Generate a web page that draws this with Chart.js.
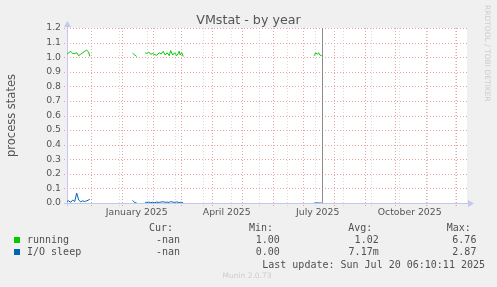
<!DOCTYPE html>
<html>
<head>
<meta charset="utf-8">
<script src="https://cdn.jsdelivr.net/npm/chart.js@4.4.1/dist/chart.umd.min.js"></script>
<style>
html, body { margin: 0; padding: 0; background: #f0f0f0; }
</style>
</head>
<body>
<canvas id="myChart" width="497" height="287"></canvas>
<script>
// days counted from 1 January 2025, null = no data
var days     = [-55, -53, -51, -49, -47, -45, -43, -41, -39, -37, -35, -33, -32, -10,
                11, 13, 15, 19,
                23.5, 25, 27, 29, 31, 33, 35, 37.5, 39.5, 41.5, 43.5, 45.5, 47.5, 49, 51, 53, 55, 56.5, 57.5, 58.5, 60, 61.6, 120,
                192.5, 194, 195.5, 197, 198.5, 200];
var running  = [1.02, 1.03, 1.04, 1.025, 1.025, 1.03, 1.01, 1.02, 1.03, 1.04, 1.048, 1.035, 1.005, null,
                1.027, 1.015, 1.005, null,
                1.03, 1.025, 1.035, 1.02, 1.025, 1.018, 1.013, 1.03, 1.022, 1.04, 1.015, 1.03, 1.01, 1.045, 1.015, 1.03, 1.01, 1.025, 1.04, 1.015, 1.03, 1.005, null,
                1.01, 1.03, 1.02, 1.03, 1.012, 1.01];
var ioSleep  = [0.010, 0.015, 0.005, 0.020, 0.010, 0.068, 0.020, 0.008, 0.015, 0.010, 0.015, 0.020, 0.028, null,
                0.018, 0.003, 0.0, null,
                0.005, 0.004, 0.006, 0.003, 0.005, 0.002, 0.006, 0.004, 0.007, 0.008, 0.005, 0.006, 0.004, 0.010, 0.006, 0.004, 0.007, 0.005, 0.003, 0.005, 0.004, 0.0, null,
                0.0, 0.0, 0.001, 0.0, 0.0, 0.0];

var monthStarts = [-31, 0, 31, 59, 90, 120, 151, 181, 212, 243, 273, 304, 334];
var weekLines   = [-31, -3, 25, 53, 81, 109, 137, 165, 193, 221, 249, 277, 305, 333];
var monthLabels = ['January 2025', 'April 2025', 'July 2025', 'October 2025'];
var labelDays   = [15, 105, 196, 288];
var yTicks      = [0, 0.1, 0.2, 0.3, 0.4, 0.5, 0.6, 0.7, 0.8, 0.9, 1.0, 1.1, 1.2];
var nowDay      = 200;

var seriesNames  = ['running', 'I/O sleep'];
var seriesColors = ['#00cc00', '#0066b3'];
var curVals = ['-nan', '-nan'];
var minVals = ['1.00', '0.00'];
var avgVals = ['1.02', '7.17m'];
var maxVals = ['6.76', '2.87'];

function pts(vals) {
    return days.map(function (d, i) { return { x: d, y: vals[i] }; });
}

function seg(c, x1, y1, x2, y2) {
    c.beginPath();
    c.moveTo(x1, y1);
    c.lineTo(x2, y2);
    c.stroke();
}

var munin = {
    id: 'munin',
    beforeDraw: function (chart) {
        var c = chart.ctx, a = chart.chartArea;
        c.save();
        c.fillStyle = '#f0f0f0';
        c.fillRect(0, 0, chart.width, chart.height);
        c.fillStyle = '#ffffff';
        c.fillRect(a.left, a.top, a.right - a.left, a.bottom - a.top);
        c.restore();
    },
    beforeDatasetsDraw: function (chart) {
        var c = chart.ctx, a = chart.chartArea, xs = chart.scales.x, ys = chart.scales.y;
        c.save();
        c.lineWidth = 1;
        c.setLineDash([1, 2]);
        c.strokeStyle = '#d9d9d9';
        weekLines.forEach(function (d) {
            if (d < xs.min || d > xs.max) return;
            var px = Math.round(xs.getPixelForValue(d)) + 0.5;
            seg(c, px, a.top, px, a.bottom + 3);
        });
        c.strokeStyle = '#eba3a3';
        monthStarts.forEach(function (d) {
            if (d < xs.min || d > xs.max) return;
            var px = Math.round(xs.getPixelForValue(d)) + 0.5;
            seg(c, px, a.top, px, a.bottom + 3);
        });
        yTicks.forEach(function (v) {
            var py = Math.round(ys.getPixelForValue(v)) + 0.5;
            seg(c, a.left - 3, py, a.right, py);
        });
        // axes + arrows
        c.setLineDash([]);
        c.strokeStyle = '#c4c8ee';
        c.fillStyle = '#c4c8ee';
        seg(c, a.left - 3, a.bottom + 0.5, a.right + 2, a.bottom + 0.5);
        seg(c, a.left + 0.5, a.bottom + 3, a.left + 0.5, a.top - 2);
        c.beginPath();
        c.moveTo(a.right + 1, a.bottom - 3);
        c.lineTo(a.right + 7, a.bottom + 0.5);
        c.lineTo(a.right + 1, a.bottom + 4);
        c.closePath();
        c.fill();
        c.beginPath();
        c.moveTo(a.left - 3, a.top - 1);
        c.lineTo(a.left + 0.5, a.top - 7);
        c.lineTo(a.left + 4, a.top - 1);
        c.closePath();
        c.fill();
        // current time rule
        c.strokeStyle = '#8c8c8c';
        var nx = Math.round(xs.getPixelForValue(nowDay)) + 0.5;
        seg(c, nx, a.top, nx, a.bottom);
        c.restore();
    },
    afterDraw: function (chart) {
        var c = chart.ctx, a = chart.chartArea;
        c.save();
        c.fillStyle = '#555555';
        c.font = '12.7px "DejaVu Sans"';
        c.textAlign = 'center';
        c.textBaseline = 'alphabetic';
        c.fillText('VMstat - by year', 248.5, 24);

        c.save();
        c.translate(15, (a.top + a.bottom) / 2);
        c.rotate(-Math.PI / 2);
        c.font = '11.5px "DejaVu Sans"';
        c.fillText('process states', 0, 0);
        c.restore();

        c.save();
        c.translate(485, 5);
        c.rotate(Math.PI / 2);
        c.fillStyle = '#cccccc';
        c.font = '7.5px "DejaVu Sans"';
        c.textAlign = 'left';
        c.fillText('RRDTOOL / TOBI OETIKER', 0, 0);
        c.restore();

        c.font = '10px "DejaVu Sans Mono"';
        c.textAlign = 'left';
        c.fillStyle = '#505050';
        c.fillText('Cur:', 149, 231);
        c.fillText('Min:', 249, 231);
        c.fillText('Avg:', 348.3, 231);
        c.fillText('Max:', 446.7, 231);
        seriesNames.forEach(function (n, i) {
            var y = 243 + i * 12;
            c.fillStyle = seriesColors[i];
            c.fillRect(14, y - 6, 6, 6);
            c.fillStyle = '#505050';
            c.fillText(n, 27, y);
            c.textAlign = 'right';
            c.fillText(curVals[i], 180, y);
            c.fillText(minVals[i], 279.8, y);
            c.fillText(avgVals[i], 378.7, y);
            c.fillText(maxVals[i], 476.4, y);
            c.textAlign = 'left';
        });
        c.textAlign = 'right';
        c.fillText('Last update: Sun Jul 20 06:10:11 2025', 485, 267.5);
        c.textAlign = 'center';
        c.fillStyle = '#cccccc';
        c.font = '7.5px "DejaVu Sans"';
        c.fillText('Munin 2.0.73', 247, 278);
        c.restore();
    }
};

var ctx = document.getElementById('myChart').getContext('2d');
var myChart = new Chart(ctx, {
    type: 'line',
    data: {
        datasets: [{
            label: seriesNames[0],
            data: pts(running),
            borderColor: seriesColors[0],
            borderWidth: 1,
            pointRadius: 0,
            tension: 0,
            spanGaps: false
        }, {
            label: seriesNames[1],
            data: pts(ioSleep),
            borderColor: seriesColors[1],
            borderWidth: 1,
            pointRadius: 0,
            tension: 0,
            spanGaps: false
        }]
    },
    options: {
        responsive: false,
        animation: false,
        devicePixelRatio: 1,
        layout: { padding: { top: 28, right: 30, left: 0, bottom: 0 } },
        plugins: {
            legend: { display: false },
            title: { display: false },
            tooltip: { enabled: false }
        },
        scales: {
            x: {
                type: 'linear',
                min: -54.7,
                max: 345.3,
                grid: { display: false, drawTicks: false },
                border: { display: false },
                afterBuildTicks: function (s) {
                    s.ticks = labelDays.map(function (v) { return { value: v }; });
                },
                afterFit: function (s) {
                    s.height = 84;
                    s.paddingLeft = 0;
                    s.paddingRight = 0;
                },
                ticks: {
                    autoSkip: false,
                    maxRotation: 0,
                    minRotation: 0,
                    padding: 4,
                    color: '#555555',
                    font: { family: 'DejaVu Sans', size: 9.3 },
                    callback: function (v) {
                        var i = labelDays.indexOf(v);
                        return i < 0 ? '' : monthLabels[i];
                    }
                }
            },
            y: {
                min: 0,
                max: 1.2,
                grid: { display: false, drawTicks: false },
                border: { display: false },
                afterBuildTicks: function (s) {
                    s.ticks = yTicks.map(function (v) { return { value: v }; });
                },
                afterFit: function (s) {
                    s.width = 67;
                    s.paddingTop = 0;
                    s.paddingBottom = 0;
                },
                ticks: {
                    padding: 6,
                    color: '#555555',
                    font: { family: 'DejaVu Sans', size: 9.3 },
                    callback: function (v) { return v.toFixed(1); }
                }
            }
        }
    },
    plugins: [munin]
});
</script>
</body>
</html>
